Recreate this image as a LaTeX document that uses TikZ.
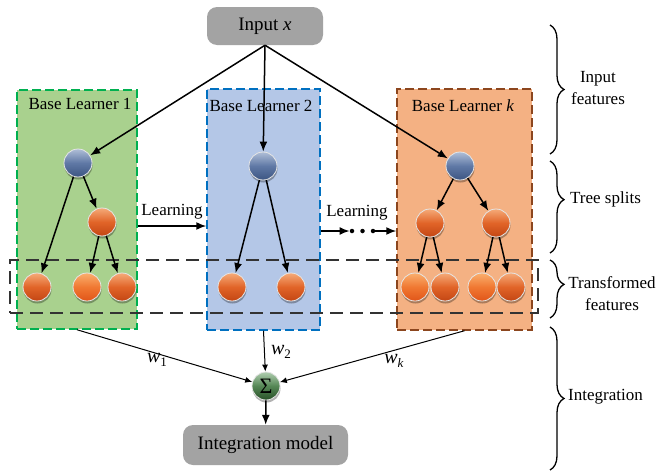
\documentclass[tikz,border=0pt]{standalone}
\usepackage{fontspec}
\setmainfont{Liberation Serif}
\usetikzlibrary{arrows.meta,shadows,decorations.pathreplacing}
\definecolor{gfill}{RGB}{169,209,142}
\definecolor{gline}{RGB}{0,176,80}
\definecolor{bfill}{RGB}{180,199,231}
\definecolor{bline}{RGB}{0,112,192}
\definecolor{ofill}{RGB}{244,177,131}
\definecolor{oline}{RGB}{140,70,30}
\definecolor{boxgray}{RGB}{163,163,163}
\definecolor{orT}{RGB}{245,170,120}
\definecolor{orM}{RGB}{225,100,40}
\definecolor{orB}{RGB}{195,70,20}
\definecolor{brT}{RGB}{250,175,110}
\definecolor{brM}{RGB}{240,120,50}
\definecolor{brB}{RGB}{225,85,25}
\definecolor{blT}{RGB}{175,190,215}
\definecolor{blM}{RGB}{95,120,165}
\definecolor{blB}{RGB}{60,85,130}
\definecolor{grT}{RGB}{175,205,175}
\definecolor{grM}{RGB}{85,135,85}
\definecolor{grB}{RGB}{40,80,40}
\begin{document}
\begin{tikzpicture}[x=1pt,y=-1pt,
  learner/.style={dash pattern=on 9pt off 4pt, line width=1.5pt, inner sep=0pt},
  tbox/.style={draw=black!80, dash pattern=on 13pt off 7pt, line width=1.3pt, inner sep=0pt},
  gbox/.style={fill=boxgray, rounded corners=10pt, inner sep=0pt, font=\fontsize{19}{22}\selectfont},
  lbl/.style={font=\fontsize{17}{19}\selectfont, inner sep=0pt},
  side/.style={font=\fontsize{17}{22}\selectfont, inner sep=0pt, align=center},
  orb/.style n args={3}{circle, minimum size=28pt, inner sep=0pt, draw=white!80!gray, line width=0.8pt,
     top color=#1, bottom color=#3, middle color=#2,
     drop shadow={shadow xshift=0.5pt, shadow yshift=-2.5pt, opacity=0.3, fill=black}},
  orange/.style={orb={orT}{orM}{orB}},
  bright/.style={orb={brT}{brM}{brB}},
  bluish/.style={orb={blT}{blM}{blB}},
  arr/.style={-{Latex[length=10pt,width=8pt]}, line width=1.5pt},
  wln/.style={-{Latex[length=7pt,width=6pt]}, line width=1pt},
  brc/.style={decorate, decoration={brace, amplitude=14pt, #1}, line width=1.3pt},
  brc/.default={aspect=0.5},
  dot/.style={circle, fill=black, minimum size=4.5pt, inner sep=0pt}
]
\useasboundingbox (0,0) rectangle (657,474);

% learner boxes
\node[learner, fill=gfill, draw=gline, minimum width=120pt, minimum height=239pt] (g) at (77,209.5) {};
\node[learner, fill=bfill, draw=bline, minimum width=113pt, minimum height=241pt] (b) at (263.5,209.5) {};
\node[learner, fill=ofill, draw=oline, minimum width=135pt, minimum height=241pt] (o) at (464.5,209.5) {};

\node[lbl] (t1) at (80,104) {Base Learner 1};
\node[lbl] (t2) at (261,106) {Base Learner 2};
\node[lbl] (t3) at (463,106) {Base Learner \textit{k}};

% transformed features box
\node[tbox, minimum width=528pt, minimum height=53pt] (tf) at (274,286.5) {};

% input / output
\node[gbox, minimum width=116pt, minimum height=38pt] (in) at (265,26) {Input \textit{x}};
\node[gbox, minimum width=165pt, minimum height=40pt] (im) at (265.5,445) {Integration model};

% tree 1
\node[bluish] (r1) at (78,163) {};
\node[orange] (m1) at (102,222) {};
\node[orange] (l1a) at (37,287) {};
\node[bright] (l1b) at (87,287) {};
\node[orange] (l1c) at (122,287) {};
% tree 2
\node[bluish] (r2) at (263,166) {};
\node[orange] (l2a) at (232,287) {};
\node[orange] (l2b) at (291,287) {};
% tree k
\node[bluish] (rk) at (460,166) {};
\node[orange] (mka) at (430,223) {};
\node[orange] (mkb) at (496,223) {};
\node[bright] (lk1) at (415,287) {};
\node[orange] (lk2) at (445,287) {};
\node[bright] (lk3) at (482,287) {};
\node[orange] (lk4) at (511,287) {};

% sigma
\node[orb={grT}{grM}{grB}, font=\fontsize{22}{22}\selectfont] (s) at (266,386) {Σ};

% input arrows
\draw[arr] (in.south) -- (r1);
\draw[arr] (in.south) -- (r2);
\draw[arr] (in.south) -- (rk);

% tree edges
\draw[arr] (r1) -- (m1);
\draw[arr] (r1) -- (l1a);
\draw[arr] (m1) -- (l1b);
\draw[arr] (m1) -- (l1c);
\draw[arr] (r2) -- (l2a);
\draw[arr] (r2) -- (l2b);
\draw[arr] (rk) -- (mka);
\draw[arr] (rk) -- (mkb);
\draw[arr] (mka) -- (lk1);
\draw[arr] (mka) -- (lk2);
\draw[arr] (mkb) -- (lk3);
\draw[arr] (mkb) -- (lk4);

% learning arrows
\draw[arr] (g.east |- 0,226) -- node[lbl, above=6pt] (lr1) {Learning} (b.west |- 0,226);
\node[dot] (d1) at (352,231) {};
\node[dot] (d2) at (362.5,231) {};
\node[dot] (d3) at (373,231) {};
\draw[arr] (b.east |- d1) -- (d1.west);
\draw[arr] (d3) -- (o.west |- d3);
\node[lbl] (lr2) at (357,213) {Learning};

% integration
\draw[wln] (g.south) -- (s);
\draw[wln] (b.south) -- (s);
\draw[wln] (o.south) -- (s);
\draw[arr] (s) -- (im);
\node[inner sep=0pt] (w1) at (157,360) {\fontsize{20}{20}\selectfont\textit{w}\raisebox{-4pt}{\fontsize{13}{13}\selectfont 1}};
\node[inner sep=0pt] (w2) at (281,352) {\fontsize{20}{20}\selectfont\textit{w}\raisebox{-4pt}{\fontsize{13}{13}\selectfont 2}};
\node[inner sep=0pt] (wk) at (394,361) {\fontsize{20}{20}\selectfont\textit{w}\raisebox{-4pt}{\fontsize{13}{13}\selectfont\textit{k}}};

% braces
\draw[brc] (550,25) -- (550,154);
\draw[brc={aspect=0.42}] (550,161) -- (550,253);
\draw[brc={aspect=0.42}] (550,260) -- (550,318);
\draw[brc] (550,327) -- (550,470);
\node[side] (s1) at (598,88) {Input\\features};
\node[side, anchor=west] (s2) at (570,199) {Tree splits};
\node[side] (s3) at (612,294) {Transformed\\features};
\node[side, anchor=west] (s4) at (568,397) {Integration};
\end{tikzpicture}
\end{document}
